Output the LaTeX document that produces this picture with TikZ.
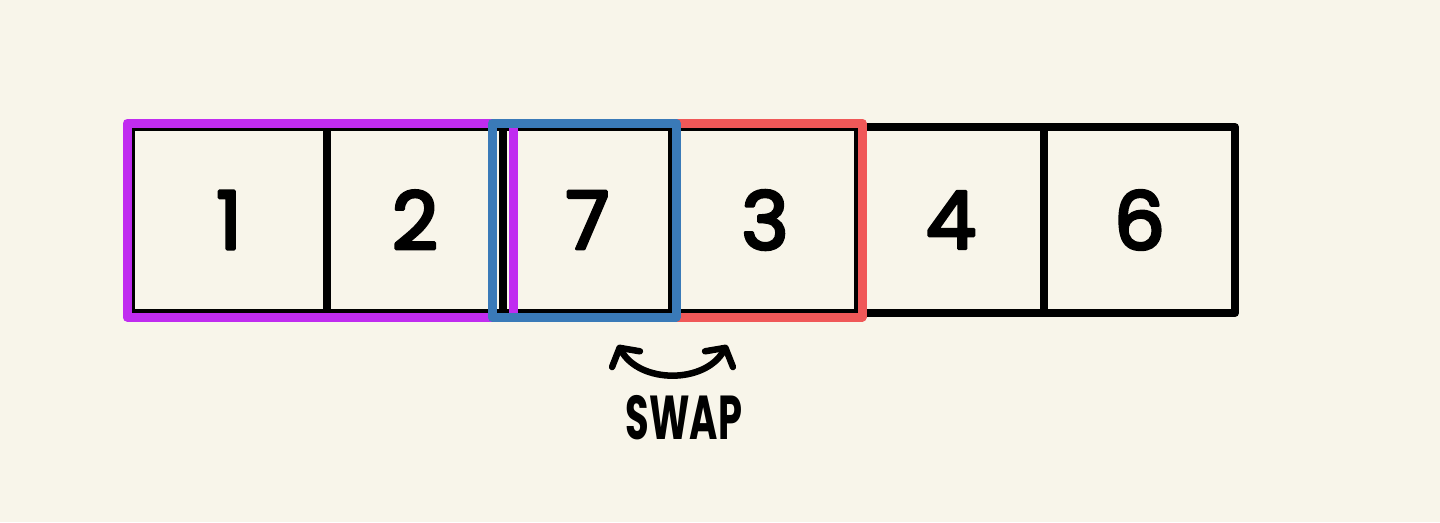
\documentclass[tikz,border=0pt]{standalone}
\usepackage{fontspec}
\setmainfont{Poppins}
\newfontfamily\digitfont{Poppins}[FakeBold=4]
\usepackage{tikz}
\usetikzlibrary{arrows.meta,positioning}
\definecolor{paper}{RGB}{248,245,234}
\definecolor{pickpurple}{RGB}{192,44,240}
\definecolor{pickblue}{RGB}{58,122,184}
\definecolor{pickred}{RGB}{240,88,88}
\begin{document}
\begin{tikzpicture}[x=1pt,y=-1pt,>={Straight Barb[round,length=13pt,width=32pt]}]
      \tikzset{cell/.style={draw,line width=8pt,line join=round,minimum height=186pt,inner sep=0pt,font=\digitfont\fontsize{80}{90}\selectfont},frame/.style={line width=9pt,line join=round}}
      \fill[paper] (0,0) rectangle (1440,522);
      \foreach \n/\xa/\xb/\v in {1/131/327/1,2/327/503/2,3/503/672/7,4/672/858/3,5/858/1044/4,6/1044/1235/6}{\node[cell,minimum width=\xb-\xa] (c\n) at ({(\xa+\xb)/2},220) {\v};}
      \draw[frame,pickpurple] (c1.north west) rectangle ([xshift=6pt]c2.south east);\draw[frame,pickred] ([xshift=8pt]c4.north west) rectangle (c4.south east);\draw[frame,pickblue] ([xshift=-7pt]c3.north west) rectangle (c3.south east);
      \coordinate (sl) at (618,345);\coordinate (sr) at (727,345);
      \draw[<->,line width=6.5pt,line cap=round] (sl) .. controls (640,384) and (705,384) .. (sr);
      \node[font=\bfseries\fontsize{62}{66}\selectfont,xscale=0.62,transform shape] (swap) at (684,418) {SWAP};
    \end{tikzpicture}
\end{document}
